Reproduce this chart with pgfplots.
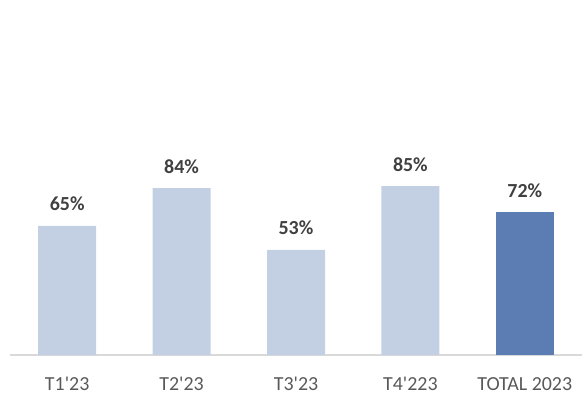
\documentclass[border=0pt]{standalone}
\usepackage{pgfplots}
\pgfplotsset{compat=1.18}
\usepackage{fontspec}
\setmainfont{Carlito}
\definecolor{lightbar}{HTML}{C3CFE3}
\definecolor{darkbar}{HTML}{5B7DB3}
\definecolor{valtxt}{HTML}{404040}
\definecolor{ticktxt}{HTML}{595959}
\definecolor{axln}{HTML}{D9D9D9}
\newcommand{\q}{\textquotesingle}
\begin{document}
\begin{tikzpicture}
\begin{axis}[
  name=ax,
  scale only axis,
  width=572bp, height=364bp,
  xmin=-0.5, xmax=4.5,
  ymin=0, ymax=183.3,
  axis x line*=bottom,
  hide y axis,
  x axis line style={draw=axln, line width=1.3bp, -},
  xtick={0,1,2,3,4},
  xticklabels={T1\q23, T2\q23, T3\q23, T4\q223, TOTAL 2023},
  major tick length=0pt,
  xticklabel style={font=\fontsize{20}{24}\selectfont, text=ticktxt, anchor=base, yshift=-35bp, inner sep=0pt},
  ybar, bar width=58bp,
  bar shift=0pt,
  /pgf/number format/assume math mode=true,
  nodes near coords={\pgfmathprintnumber{\pgfplotspointmeta}\%},
  nodes near coords style={font=\bfseries\fontsize{20}{24}\selectfont, text=valtxt, anchor=base, yshift=15bp},
  clip=false,
]
\addplot[fill=lightbar, draw=none] coordinates {(0,65) (1,84) (2,53) (3,85)};
\addplot[fill=darkbar, draw=none] coordinates {(4,72)};
\end{axis}
\pgfresetboundingbox
\path (ax.south west) ++(-10bp,-40bp) rectangle ([yshift=-9bp]ax.north east);
\end{tikzpicture}
\end{document}
